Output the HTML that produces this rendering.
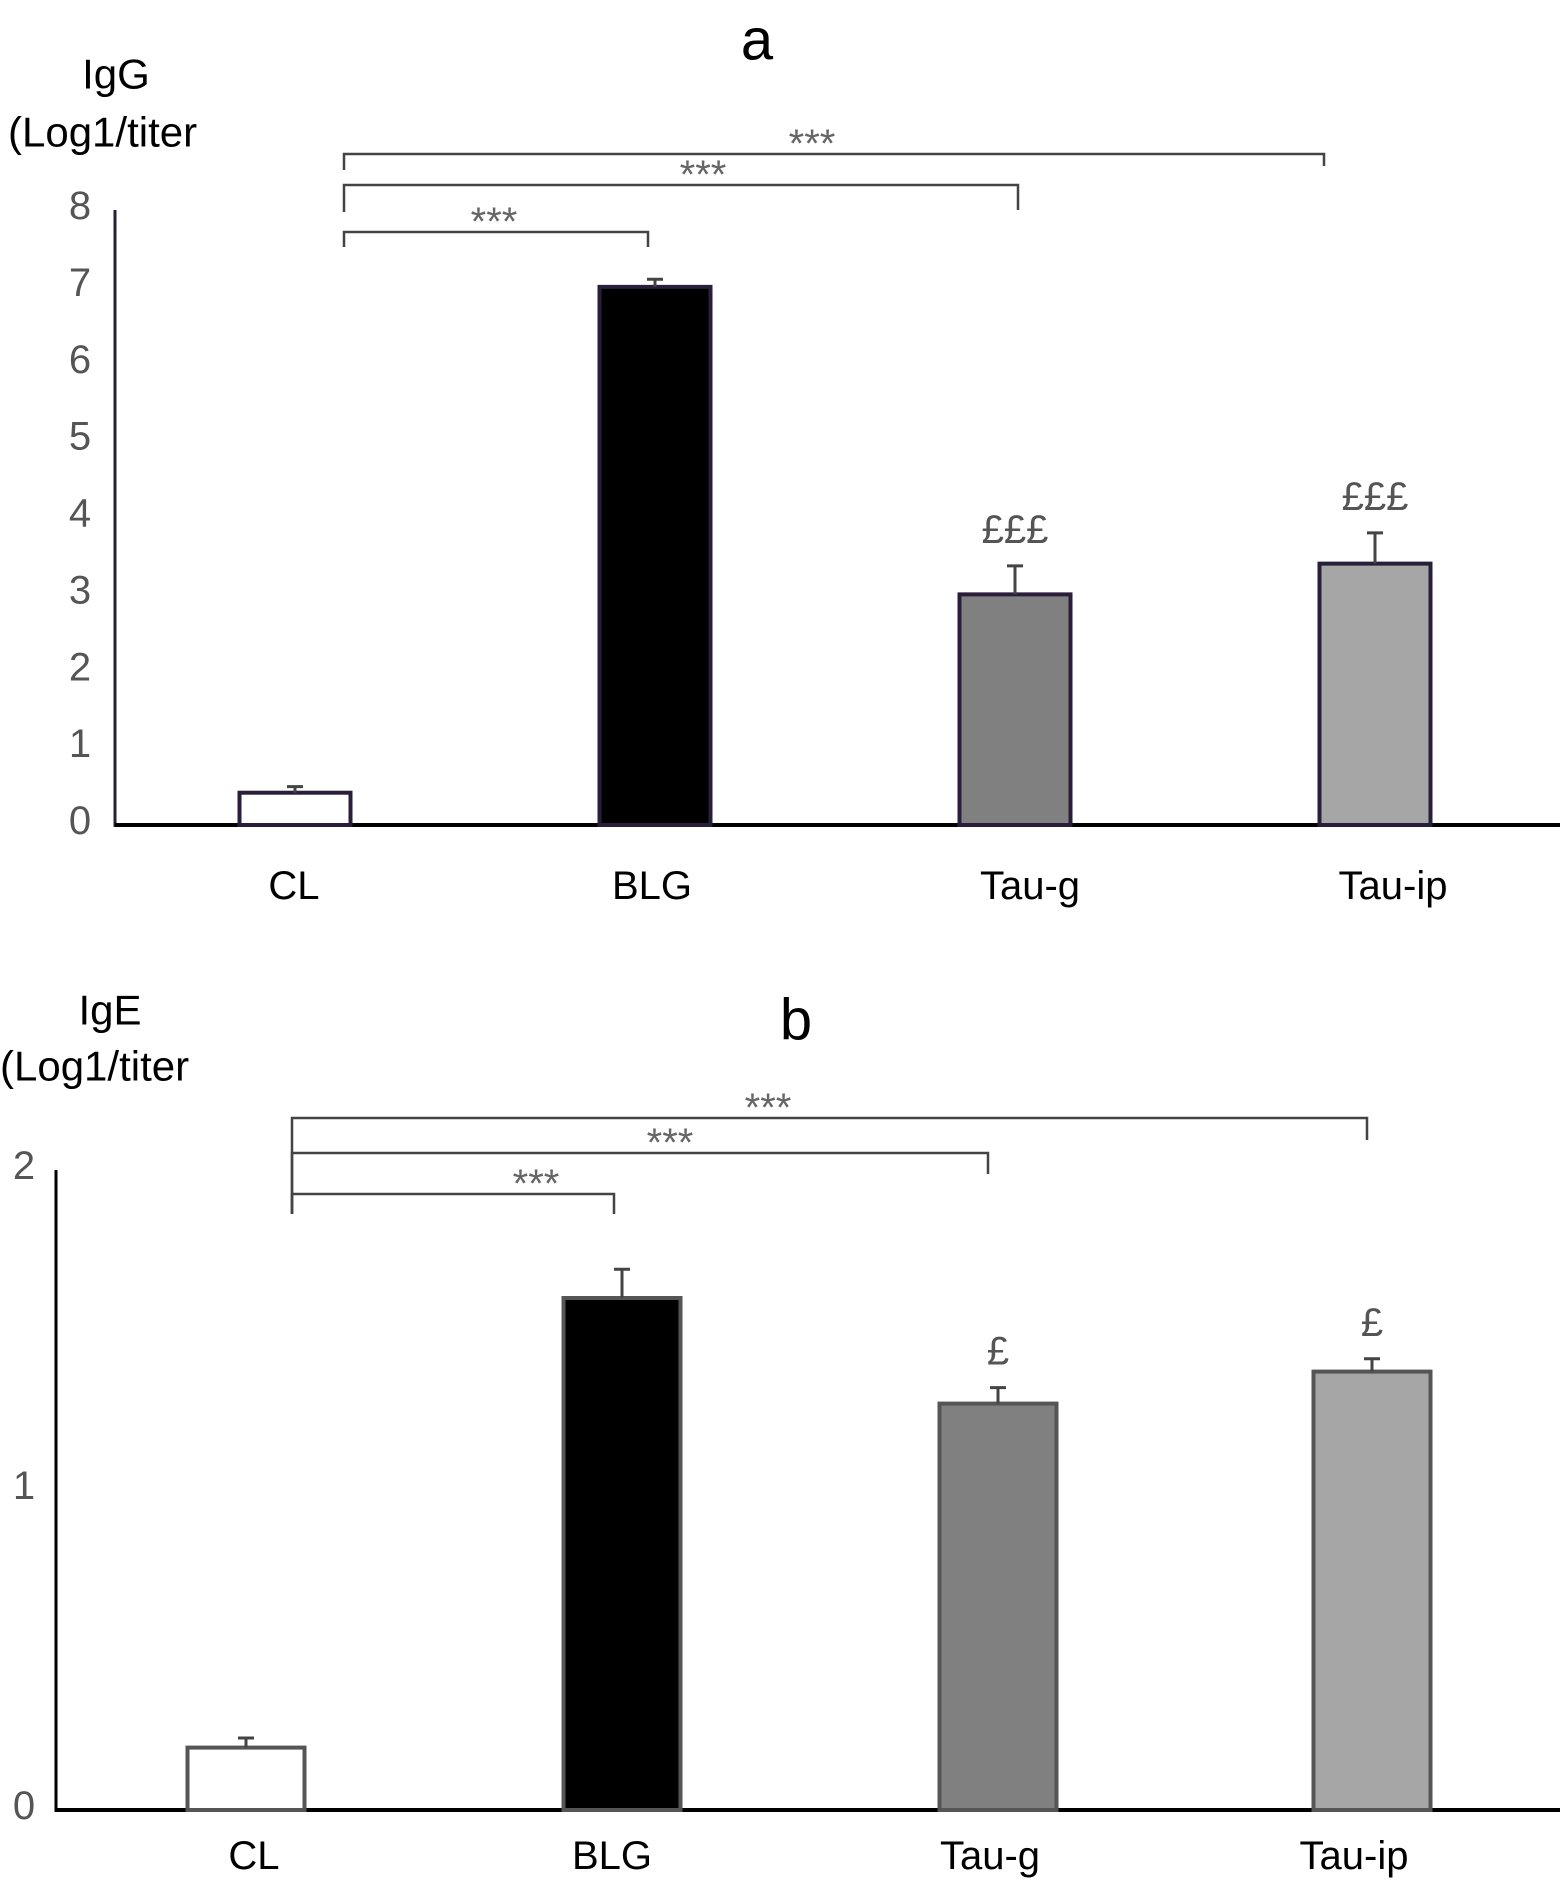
<!DOCTYPE html>
<html><head><meta charset="utf-8"><style>
html,body{margin:0;padding:0;background:#fff;}
svg{display:block;font-family:"Liberation Sans",Arial,sans-serif;}
</style></head><body>
<svg id="chart" width="1566" height="1883" viewBox="0 0 1566 1883" xmlns="http://www.w3.org/2000/svg"></svg>
<script>
const categories = ["CL","BLG","Tau-g","Tau-ip"];
const iggValues = [0.42, 7.0, 3.0, 3.4];
const iggErrors = [0.08, 0.1, 0.37, 0.4];
const igeValues = [0.195, 1.60, 1.27, 1.37];
const igeErrors = [0.03, 0.09, 0.05, 0.04];
const iggTicks = ["0","1","2","3","4","5","6","7","8"];
const igeTicks = ["0","1","2"];
const iggMarks = ["", "", "£££", "£££"];
const igeMarks = ["", "", "£", "£"];
const fills = ["#ffffff","#000000","#808080","#a6a6a6"];

const svg = document.getElementById('chart');
const NS = "http://www.w3.org/2000/svg";
function mk(tag, attrs, parent){const e=document.createElementNS(NS,tag);for(const k in attrs)e.setAttribute(k,attrs[k]);(parent||svg).appendChild(e);return e;}
function txt(s,x,y,size,fill,anchor,parent){const t=mk('text',{x:x,y:y,'font-size':size,fill:fill,'text-anchor':anchor||'middle','dominant-baseline':'central'},parent);t.textContent=s;return t;}

function drawPanel(p){
  const g = mk('g',{});
  
  
  const yScale = v => p.y0 - (v/p.max)*(p.y0-p.yTop);
  const ya = mk('line',{x1:p.axisX,y1:p.yTop,x2:p.axisX,y2:p.y0+2,stroke:p.axisColor,'stroke-width':3},g);
  
  
  const xa = mk('line',{x1:p.axisX,y1:p.y0,x2:1560,y2:p.y0,stroke:'#000','stroke-width':4},g);
  
  
  p.ticks.forEach((t,i)=>{
    const v = +t;
    const el = txt(t, p.tickX, yScale(v)-4, 40, '#555', 'middle', g);
    
    
  });
  categories.forEach((c,i)=>{
    const cx = p.centers[i];
    const top = yScale(p.values[i]);
    const etop = yScale(p.values[i]+p.errors[i]);
    const b = mk('rect',{x:cx-p.bw/2,y:top,width:p.bw,height:p.y0-top,fill:fills[i],stroke:p.barStroke,'stroke-width':4},g);
    
    
    const e = mk('path',{d:`M${cx},${top} V${etop} M${cx-8},${etop} H${cx+8}`,stroke:'#444','stroke-width':3,fill:'none'},g);
    
    
    const l = txt(c, p.labelX[i], p.labelY, 40, '#000', 'middle', g);
    
    
    if(p.marks[i]){
      const m = txt(p.marks[i], cx, etop-p.markOff, 40, '#555', 'middle', g);
      
      
    }
  });
  p.brackets.forEach(br=>{
    const bp = mk('path',{d:`M${p.bx},${br.tickL} V${br.y} H${br.x2} V${br.tickR}`,stroke:'#444','stroke-width':2.5,fill:'none'},g);
    
    
    const s = txt('***', br.sx, br.y-10, 40, '#666', 'middle', g);
    
    
  });
  const t = txt(p.title, p.titleX, p.titleY, 58, '#000', 'middle', g);
  
  
  const y1 = txt(p.ylab1, p.ylab1X, p.ylab1Y, 42, '#000', 'middle', g);
  
  
  const y2 = txt('(Log1/titer', p.ylab2X, p.ylab2Y, 42, '#000', 'start', g);
  
  
}

drawPanel({name:'panel-a-igg', values:iggValues, errors:iggErrors, ticks:iggTicks, marks:iggMarks, max:8,
  axisX:115, y0:825, yTop:210, tickX:80, centers:[295,655,1015,1375], bw:111, labelY:886,
  labelX:[294,652,1030,1393], markOff:36,
  axisColor:'#2a1f3a', barStroke:'#2a1f3a', bx:344,
  brackets:[{y:154,x2:1324,tickL:170,tickR:166,sx:812},{y:185,x2:1018,tickL:212,tickR:210,sx:703},{y:232,x2:648,tickL:247,tickR:247,sx:494}],
  title:'a', titleX:757, titleY:40, ylab1:'IgG', ylab1X:116, ylab1Y:74, ylab2X:8, ylab2Y:132});

drawPanel({name:'panel-b-ige', values:igeValues, errors:igeErrors, ticks:igeTicks, marks:igeMarks, max:2,
  axisX:56, y0:1810, yTop:1170, tickX:24, centers:[246,622,998,1372], bw:117, labelY:1856,
  labelX:[254,612,990,1354], markOff:36,
  axisColor:'#000', barStroke:'#555', bx:292,
  brackets:[{y:1118,x2:1367,tickL:1214,tickR:1140,sx:768},{y:1153,x2:988,tickL:1214,tickR:1174,sx:670},{y:1194,x2:614,tickL:1214,tickR:1214,sx:536}],
  title:'b', titleX:796, titleY:1020, ylab1:'IgE', ylab1X:110, ylab1Y:1010, ylab2X:0, ylab2Y:1066});
</script>
</body></html>
